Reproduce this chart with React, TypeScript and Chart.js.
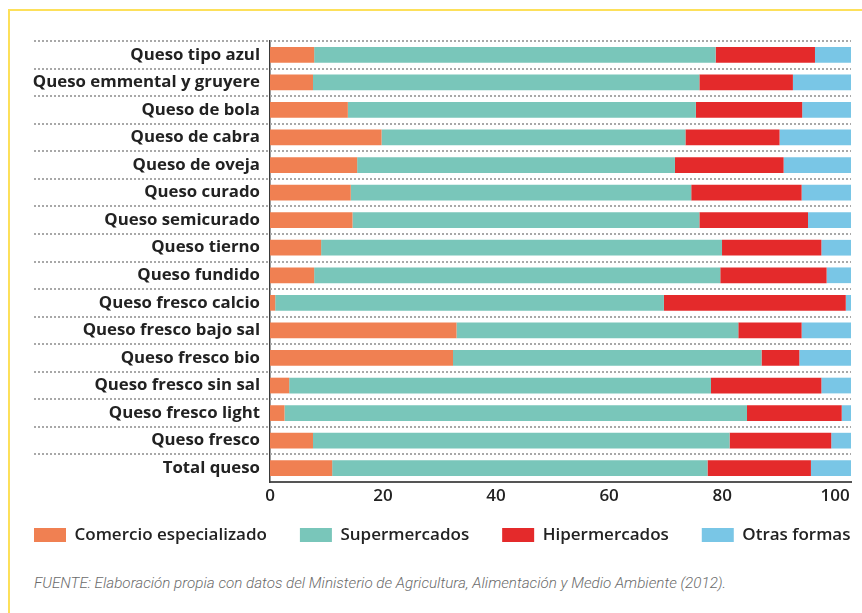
import React, { useEffect, useRef } from "react";
import { Chart, registerables } from "chart.js";

Chart.register(...registerables);

const CATEGORIES = [
  "Queso tipo azul",
  "Queso emmental y gruyere",
  "Queso de bola",
  "Queso de cabra",
  "Queso de oveja",
  "Queso curado",
  "Queso semicurado",
  "Queso tierno",
  "Queso fundido",
  "Queso fresco calcio",
  "Queso fresco bajo sal",
  "Queso fresco bio",
  "Queso fresco sin sal",
  "Queso fresco light",
  "Queso fresco",
  "Total queso",
];

const SERIES_NAMES = ["Comercio especializado", "Supermercados", "Hipermercados", "Otras formas"];

const COMERCIO = [7.6, 7.4, 13.4, 19.2, 15.0, 13.9, 14.2, 8.8, 7.6, 0.9, 32.1, 31.5, 3.3, 2.5, 7.4, 10.7];
const SUPERMERCADOS = [69.1, 66.5, 59.9, 52.3, 54.7, 58.6, 59.7, 69.0, 69.9, 66.9, 48.5, 53.1, 72.6, 79.6, 71.7, 64.6];
const HIPERMERCADOS = [17.1, 16.1, 18.3, 16.2, 18.7, 19.0, 18.7, 17.1, 18.3, 31.3, 10.9, 6.5, 19.0, 16.3, 17.5, 17.8];
const OTRAS = [6.2, 10.0, 8.4, 12.3, 11.6, 8.5, 7.4, 5.1, 4.2, 0.9, 8.5, 8.9, 5.1, 1.6, 3.4, 6.9];

const X_TICKS = [0, 20, 40, 60, 80, 100];

const SOURCE =
  "FUENTE: Elaboración propia con datos del Ministerio de Agricultura, Alimentación y Medio Ambiente (2012).";

const COLORS = ["#f08052", "#79c6ba", "#e42a2b", "#79c6e6"];

const separatorPlugin = {
  id: "separators",
  beforeDatasetsDraw(chart: any) {
    const y = chart.scales.y;
    const n = chart.data.labels.length;
    if (n < 2) return;
    const step = y.getPixelForValue(1) - y.getPixelForValue(0);
    const ctx = chart.ctx;
    ctx.save();
    ctx.strokeStyle = "#a8a8a8";
    ctx.lineWidth = 2;
    ctx.setLineDash([2, 2]);
    for (let i = 0; i < n; i++) {
      const yy = Math.round(y.getPixelForValue(i) - step / 2);
      ctx.beginPath();
      ctx.moveTo(34, yy);
      ctx.lineTo(chart.chartArea.right, yy);
      ctx.stroke();
    }
    ctx.restore();
  },
};

export default function App() {
  const ref = useRef<HTMLCanvasElement | null>(null);

  useEffect(() => {
    if (!ref.current) return;
    const series = [COMERCIO, SUPERMERCADOS, HIPERMERCADOS, OTRAS];
    const chart = new Chart(ref.current, {
      type: "bar",
      data: {
        labels: CATEGORIES,
        datasets: series.map((d, i) => ({
          label: SERIES_NAMES[i],
          data: d,
          backgroundColor: COLORS[i],
          borderWidth: 0,
          barPercentage: 0.57,
          categoryPercentage: 1,
        })),
      },
      options: {
        indexAxis: "y",
        animation: false,
        responsive: true,
        maintainAspectRatio: false,
        layout: { padding: { top: 41, left: 1, right: 0, bottom: 6.5 } },
        scales: {
          x: {
            type: "linear",
            stacked: true,
            min: 0,
            max: 100,
            display: false,
          },
          xTicks: {
            type: "linear",
            position: "bottom",
            min: 0,
            max: 102.8,
            grid: { display: false, drawTicks: false },
            border: { display: true, color: "#555555", width: 2 },
            afterBuildTicks: (scale: any) => {
              scale.ticks = X_TICKS.map((v) => ({ value: v }));
            },
            afterFit: (scale: any) => {
              scale.height = 11.5;
            },
            ticks: {
              mirror: true,
              padding: -24,
              color: "#222222",
              font: { family: "Open Sans", size: 17, weight: "600" },
              maxRotation: 0,
            },
          },
          y: {
            stacked: true,
            offset: true,
            grid: { display: false, drawTicks: false },
            border: { display: true, color: "#3a3a3a", width: 1.5 },
            afterFit: (scale: any) => {
              scale.width = 269;
            },
            ticks: {
              autoSkip: false,
              padding: 10,
              color: "#222222",
              font: { family: "Open Sans", size: 16.8, weight: "bold" },
            },
          },
          rightPad: {
            type: "linear",
            position: "right",
            grid: { display: false, drawTicks: false },
            border: { display: false },
            ticks: { display: false },
            afterFit: (scale: any) => {
              scale.width = 49;
            },
          },
        },
        plugins: {
          tooltip: { enabled: false },
          legend: {
            position: "bottom",
            align: "start",
            labels: {
              boxWidth: 32,
              boxHeight: 14,
              padding: 33,
              color: "#222222",
              font: { family: "Open Sans", size: 17, weight: "600" },
            },
          },
        },
      },
      plugins: [separatorPlugin],
    });
    return () => chart.destroy();
  }, []);

  return (
    <div style={{ position: "absolute", left: 0, top: 0, width: 862, height: 613, overflow: "hidden", background: "#ffffff" }}>
      <div
        style={{
          position: "absolute",
          left: 8,
          top: 9,
          width: 900,
          height: 700,
          borderTop: "2px solid #fde05a",
          borderLeft: "2px solid #fde05a",
        }}
      />
      <div style={{ position: "absolute", left: 0, top: 0, width: 900, height: 560 }}>
        <canvas ref={ref} />
      </div>
      <div
        style={{
          position: "absolute",
          left: 34,
          top: 575,
          fontFamily: "Roboto",
          fontStyle: "italic",
          fontWeight: 300,
          fontSize: 15.2,
          lineHeight: "16px",
          color: "#6b6b6b",
          whiteSpace: "nowrap",
        }}
      >
        {SOURCE}
      </div>
    </div>
  );
}
